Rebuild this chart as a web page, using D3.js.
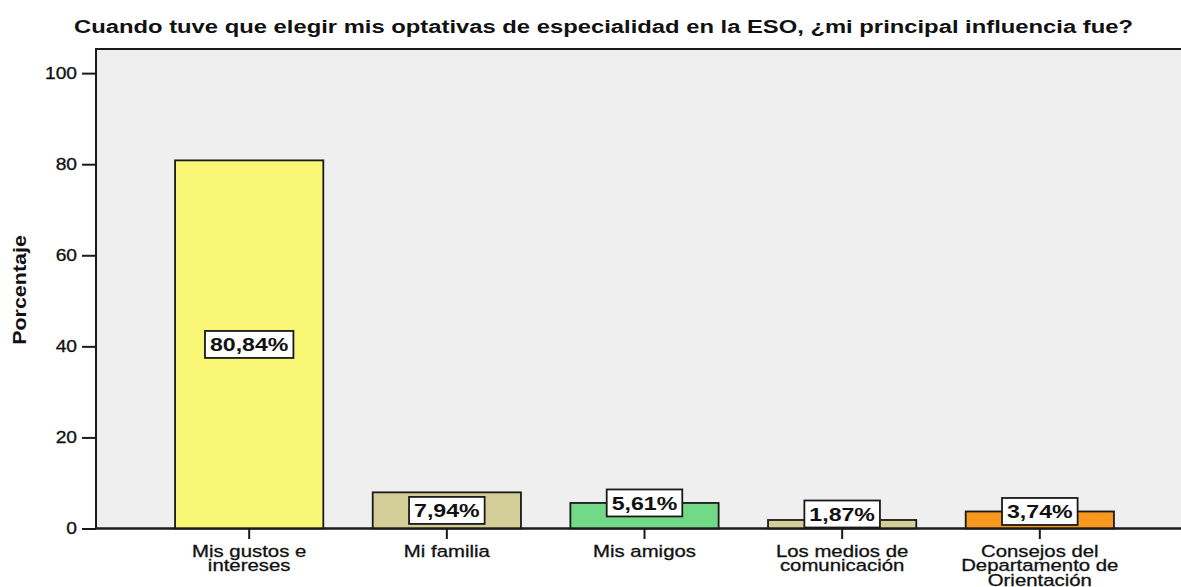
<!DOCTYPE html>
<html lang="es">
<head>
    <meta charset="UTF-8">
    <title>Optativas de especialidad en la ESO</title>
    <script src="https://cdnjs.cloudflare.com/ajax/libs/d3/7.8.5/d3.min.js"></script>
    <style>
        body { margin: 0; background: #ffffff; }
        svg { display: block; font-family: 'Liberation Sans', Arial, sans-serif; }
        .tick line, .domain { stroke: #1a1a1a; stroke-width: 2; }
        .tick text, .xlabel { fill: #111; stroke: #111; stroke-width: 0.3px; }
    </style>
</head>
<body>
    <div id="chart"></div>
    <script>
        const chartTitle = 'Cuando tuve que elegir mis optativas de especialidad en la ESO, ¿mi principal influencia fue?';
        const yTitle = 'Porcentaje';
        const categories = ['Mis gustos e intereses', 'Mi familia', 'Mis amigos', 'Los medios de comunicación', 'Consejos del Departamento de Orientación'];
        const categoryLines = [
            ['Mis gustos e', 'intereses'],
            ['Mi familia'],
            ['Mis amigos'],
            ['Los medios de', 'comunicación'],
            ['Consejos del', 'Departamento de', 'Orientación']
        ];
        const percentages = [80.84, 7.94, 5.61, 1.87, 3.74];
        const valueLabels = ['80,84%', '7,94%', '5,61%', '1,87%', '3,74%'];
        const yTicks = [0, 20, 40, 60, 80, 100];
        const barColors = ['#faf776', '#d4cf98', '#72d987', '#d4cf98', '#f7991f'];

        const W = 1181, H = 587;
        const plotLeft = 96, plotTop = 49, plotBottom = 528.5;

        // the original text is drawn wider than Arial, stretch along the baseline
        function stretch(sel, k) {
            sel.each(function() {
                const w = this.getComputedTextLength();
                this.setAttribute('textLength', w * k);
                this.setAttribute('lengthAdjust', 'spacingAndGlyphs');
            });
        }

        const svg = d3.select('#chart').append('svg')
            .attr('width', W)
            .attr('height', H);

        const x = d3.scaleBand()
            .domain(categories)
            .range([plotLeft, 1193])
            .paddingInner(0.25)
            .paddingOuter(0.4);

        const y = d3.scaleLinear()
            .domain([0, 105.3])
            .range([plotBottom, plotTop]);

        // plot background
        svg.append('rect')
            .attr('x', plotLeft)
            .attr('y', plotTop)
            .attr('width', 1200 - plotLeft)
            .attr('height', plotBottom - plotTop)
            .attr('fill', '#efefef')
            .attr('stroke', '#1a1a1a')
            .attr('stroke-width', 2);

        // title
        svg.append('text')
            .attr('x', 603.5)
            .attr('y', 32.5)
            .attr('text-anchor', 'middle')
            .style('font-size', '17.5px')
            .style('font-weight', 'bold')
            .attr('fill', '#111')
            .attr('textLength', 1059)
            .attr('lengthAdjust', 'spacingAndGlyphs')
            .text(chartTitle);

        // bars
        svg.selectAll('.bar')
            .data(percentages)
            .enter().append('rect')
            .attr('class', 'bar')
            .attr('x', (d, i) => x(categories[i]))
            .attr('y', d => y(d))
            .attr('width', x.bandwidth())
            .attr('height', d => y(0) - y(d))
            .attr('fill', (d, i) => barColors[i])
            .attr('stroke', '#1a1a1a')
            .attr('stroke-width', 1.8);

        // y axis
        const yAxis = svg.append('g')
            .attr('transform', `translate(${plotLeft},0)`)
            .call(d3.axisLeft(y).tickValues(yTicks).tickSize(14).tickSizeOuter(0).tickPadding(5));
        yAxis.select('.domain').remove();
        yAxis.attr('font-family', null);
        yAxis.selectAll('.tick text')
            .style('font-size', '16px');
        stretch(yAxis.selectAll('.tick text'), 1.2);

        // x axis
        const xAxis = svg.append('g')
            .attr('transform', `translate(0,${plotBottom})`)
            .call(d3.axisBottom(x).tickSize(10.5).tickSizeOuter(0).tickFormat(''));
        xAxis.select('.domain').attr('d', `M${plotLeft},0H${W}`);

        categories.forEach((c, i) => {
            categoryLines[i].forEach((line, j) => {
                svg.append('text')
                    .attr('class', 'xlabel')
                    .attr('x', x(c) + x.bandwidth() / 2)
                    .attr('y', 556.5 + j * 14.6)
                    .attr('text-anchor', 'middle')
                    .style('font-size', '16.3px')
                    .text(line);
            });
        });
        stretch(svg.selectAll('.xlabel'), 1.25);

        // y title
        const yt = svg.append('text')
            .attr('transform', 'translate(26,290) rotate(-90)')
            .attr('text-anchor', 'middle')
            .style('font-size', '18.5px')
            .style('font-weight', 'bold')
            .attr('fill', '#111')
            .text(yTitle);
        stretch(yt, 1.16);

        // value labels in boxes
        const boxH = 27;
        percentages.forEach((v, i) => {
            const cx = x(categories[i]) + x.bandwidth() / 2;
            const barH = y(0) - y(v);
            const cy = barH >= boxH ? y(v / 2) : Math.min(y(v), y(0) - boxH / 2 - 1);
            const g = svg.append('g');
            const box = g.append('rect')
                .attr('fill', '#ffffff')
                .attr('stroke', '#1a1a1a')
                .attr('stroke-width', 1.8);
            const t = g.append('text')
                .attr('x', cx)
                .attr('y', cy)
                .attr('dy', '0.36em')
                .attr('text-anchor', 'middle')
                .style('font-size', '18.5px')
                .style('font-weight', 'bold')
                .attr('fill', '#111')
                .text(valueLabels[i]);
            stretch(t, 1.25);
            const tw = +t.attr('textLength');
            box.attr('x', cx - tw / 2 - 5)
                .attr('y', cy - boxH / 2)
                .attr('width', tw + 10)
                .attr('height', boxH);
        });
    </script>
</body>
</html>
